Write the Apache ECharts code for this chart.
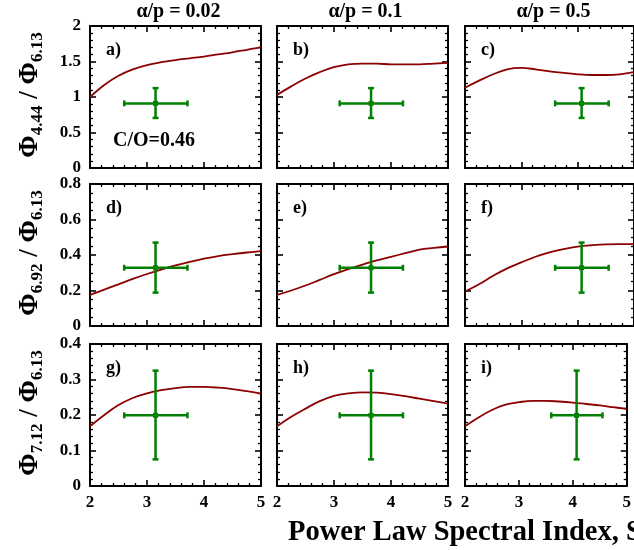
<!DOCTYPE html>
<html>
<head>
<meta charset="utf-8">
<script src="https://cdn.jsdelivr.net/npm/echarts@6/dist/echarts.min.js"></script>
<style>html,body{margin:0;padding:0;background:#fff;}#c{width:634px;height:550px;}</style>
</head>
<body>
<div id="c"></div>
<script>
// ---- data ----
const xs = [2, 2.25, 2.5, 2.75, 3, 3.25, 3.5, 3.75, 4, 4.25, 4.5, 4.75, 5];
const curveA = [1.00, 1.17, 1.30, 1.39, 1.45, 1.49, 1.52, 1.545, 1.57, 1.60, 1.63, 1.665, 1.70];
const curveB = [1.03, 1.15, 1.26, 1.35, 1.42, 1.46, 1.47, 1.47, 1.46, 1.46, 1.46, 1.47, 1.48];
const curveC = [1.13, 1.23, 1.32, 1.39, 1.41, 1.39, 1.36, 1.34, 1.32, 1.31, 1.31, 1.32, 1.35];
const curveD = [0.175, 0.205, 0.235, 0.265, 0.293, 0.318, 0.341, 0.361, 0.379, 0.394, 0.405, 0.414, 0.422];
const curveE = [0.175, 0.200, 0.228, 0.260, 0.292, 0.320, 0.346, 0.370, 0.390, 0.410, 0.430, 0.440, 0.448];
const curveF = [0.194, 0.235, 0.283, 0.325, 0.358, 0.390, 0.415, 0.433, 0.447, 0.455, 0.460, 0.461, 0.461];
const curveG = [0.168, 0.200, 0.228, 0.248, 0.261, 0.270, 0.276, 0.279, 0.279, 0.277, 0.273, 0.267, 0.260];
const curveH = [0.168, 0.195, 0.218, 0.239, 0.254, 0.261, 0.264, 0.263, 0.259, 0.253, 0.246, 0.239, 0.232];
const curveI = [0.168, 0.193, 0.214, 0.229, 0.236, 0.240, 0.240, 0.238, 0.235, 0.231, 0.227, 0.222, 0.217];
const curves = [curveA, curveB, curveC, curveD, curveE, curveF, curveG, curveH, curveI];

// measured point per column (x) and per row (y)
const errX = [3.15, 3.65, 4.07];
const errXLo = [2.60, 3.10, 3.60];
const errXHi = [3.71, 4.21, 4.55];
const errY = [0.91, 0.328, 0.199];
const errYLo = [0.705, 0.188, 0.075];
const errYHi = [1.125, 0.47, 0.325];

const colTitles = ['α/p = 0.02', 'α/p = 0.1', 'α/p = 0.5'];
const panelLabels = ['a)', 'b)', 'c)', 'd)', 'e)', 'f)', 'g)', 'h)', 'i)'];
const rowMax = [2, 0.8, 0.4];
const rowInterval = [0.5, 0.2, 0.1];
const rowMinorSplit = [5, 4, 5];
const xTicks = [2, 3, 4, 5];
const yTitleSubs = [['4.44', '6.13'], ['6.92', '6.13'], ['7.12', '6.13']];

// ---- layout ----
const FONT = '"Liberation Serif", "DejaVu Serif", serif';
const colLeft = [90, 277, 465];
const colWidth = 171;
const rowTop = [26, 184, 344];
const rowHeight = 142;
const RED = '#8b0000';
const GREEN = '#008000';

const grids = [], xAxes = [], yAxes = [], series = [], graphics = [];
for (let r = 0; r < 3; r++) {
  for (let c = 0; c < 3; c++) {
    const g = r * 3 + c;
    grids.push({left: colLeft[c], top: rowTop[r], width: colWidth, height: rowHeight, containLabel: false});
    const common = {
      gridIndex: g, type: 'value',
      axisLine: {show: true, onZero: false, lineStyle: {color: '#000', width: 2}},
      axisTick: {show: true, inside: true, length: 6, lineStyle: {color: '#000', width: 1.6}},
      minorTick: {show: true, length: 3, lineStyle: {color: '#000', width: 1.3}},
      splitLine: {show: false}
    };
    const xb = Object.assign({}, common, {
      position: 'bottom', min: xTicks[0], max: xTicks[xTicks.length - 1], interval: 1,
      minorTick: Object.assign({}, common.minorTick, {splitNumber: 5}),
      axisLabel: {show: r === 2, fontFamily: FONT, fontWeight: 'bold', fontSize: 17, color: '#000', margin: 8}
    });
    const xt = Object.assign({}, xb, {position: 'top', axisLabel: {show: false}});
    xAxes.push(xb, xt);
    const yl = Object.assign({}, common, {
      position: 'left', min: 0, max: rowMax[r], interval: rowInterval[r],
      minorTick: Object.assign({}, common.minorTick, {splitNumber: rowMinorSplit[r]}),
      axisLabel: {show: c === 0, fontFamily: FONT, fontWeight: 'bold', fontSize: 17, color: '#000', margin: 9}
    });
    const yr = Object.assign({}, yl, {position: 'right', axisLabel: {show: false}});
    yAxes.push(yl, yr);

    series.push({
      type: 'line', xAxisIndex: 2 * g, yAxisIndex: 2 * g,
      data: xs.map((x, i) => [x, curves[g][i]]),
      smooth: 0.4, showSymbol: false, symbol: 'none',
      lineStyle: {color: RED, width: 1.8}, z: 3, animation: false
    });
    series.push({
      type: 'custom', xAxisIndex: 2 * g, yAxisIndex: 2 * g, animation: false, z: 4,
      data: [[errX[c], errY[r], errXLo[c], errXHi[c], errYLo[r], errYHi[r]]],
      encode: {x: [0, 2, 3], y: [1, 4, 5]},
      renderItem: function (params, api) {
        const ctr = api.coord([api.value(0), api.value(1)]);
        const lft = api.coord([api.value(2), api.value(1)]);
        const rgt = api.coord([api.value(3), api.value(1)]);
        const bot = api.coord([api.value(0), api.value(4)]);
        const top = api.coord([api.value(0), api.value(5)]);
        const cap = 3;
        const st = {stroke: GREEN, lineWidth: 2.5};
        return {type: 'group', children: [
          {type: 'line', shape: {x1: lft[0], y1: lft[1], x2: rgt[0], y2: rgt[1]}, style: st},
          {type: 'line', shape: {x1: bot[0], y1: bot[1], x2: top[0], y2: top[1]}, style: st},
          {type: 'line', shape: {x1: lft[0], y1: lft[1] - cap, x2: lft[0], y2: lft[1] + cap}, style: st},
          {type: 'line', shape: {x1: rgt[0], y1: rgt[1] - cap, x2: rgt[0], y2: rgt[1] + cap}, style: st},
          {type: 'line', shape: {x1: bot[0] - cap, y1: bot[1], x2: bot[0] + cap, y2: bot[1]}, style: st},
          {type: 'line', shape: {x1: top[0] - cap, y1: top[1], x2: top[0] + cap, y2: top[1]}, style: st},
          {type: 'rect', shape: {x: ctr[0] - 2.5, y: ctr[1] - 2.5, width: 5, height: 5}, style: {fill: GREEN}}
        ]};
      }
    });

    graphics.push({
      type: 'text', x: colLeft[c] + 16, y: rowTop[r] + 24, z: 10,
      style: {text: panelLabels[g], font: 'bold 18px ' + FONT, fill: '#000',
        textAlign: 'left', align: 'left', textVerticalAlign: 'middle', verticalAlign: 'middle'}
    });
  }
}

for (let c = 0; c < 3; c++) {
  graphics.push({
    type: 'text', x: colLeft[c] + colWidth / 2 + 3, y: 12, z: 10,
    style: {text: colTitles[c], font: 'bold 20px ' + FONT, fill: '#000',
      textAlign: 'center', align: 'center', textVerticalAlign: 'middle', verticalAlign: 'middle'}
  });
}
for (let r = 0; r < 3; r++) {
  graphics.push({
    type: 'text', x: 30, y: rowTop[r] + rowHeight / 2 - 2, rotation: Math.PI / 2, z: 10,
    style: {
      text: '{p|Φ}{s|' + yTitleSubs[r][0] + '}{p| / Φ}{s|' + yTitleSubs[r][1] + '}',
      textAlign: 'center', align: 'center', textVerticalAlign: 'middle', verticalAlign: 'middle',
      fill: '#000',
      rich: {
        p: {fontFamily: FONT, fontWeight: 'bold', fontSize: 27, fill: '#000', color: '#000'},
        s: {fontFamily: FONT, fontWeight: 'bold', fontSize: 17, fill: '#000', color: '#000', padding: [16, 0, 0, 0]}
      }
    }
  });
}
graphics.push({
  type: 'text', x: 113, y: 141, z: 10,
  style: {text: 'C/O=0.46', font: 'bold 20px ' + FONT, fill: '#000',
    textAlign: 'left', align: 'left', textVerticalAlign: 'middle', verticalAlign: 'middle'}
});
graphics.push({
  type: 'text', x: 288, y: 533, z: 10,
  style: {text: 'Power Law Spectral Index, S', font: 'bold 28.5px ' + FONT, fill: '#000',
    textAlign: 'left', align: 'left', textVerticalAlign: 'middle', verticalAlign: 'middle'}
});

const chart = echarts.init(document.getElementById('c'), null, {renderer: 'canvas'});
chart.setOption({
  animation: false,
  backgroundColor: '#fff',
  grid: grids, xAxis: xAxes, yAxis: yAxes, series: series, graphic: graphics
});
</script>
</body>
</html>
